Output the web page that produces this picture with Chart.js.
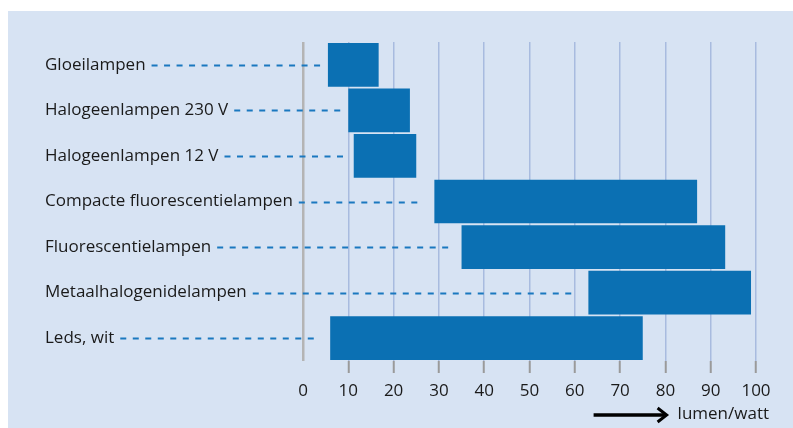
<!DOCTYPE html>
<html><head><meta charset="utf-8">
<script src="https://cdn.jsdelivr.net/npm/chart.js@4"></script>
<style>html,body{margin:0;padding:0;background:#fff}#wrap{width:793px;height:428px;position:relative}</style>
</head><body><div id="wrap"><canvas id="c" width="793" height="428"></canvas></div>
<script>
const categories = ['Gloeilampen','Halogeenlampen 230 V','Halogeenlampen 12 V','Compacte fluorescentielampen','Fluorescentielampen','Metaalhalogenidelampen','Leds, wit'];
const minEfficacy = [5.5, 10, 11.2, 29, 35, 63, 6];
const maxEfficacy = [16.7, 23.6, 25, 87, 93.2, 98.9, 75];
const xTicks = [0, 10, 20, 30, 40, 50, 60, 70, 80, 90, 100];
const unitLabel = 'lumen/watt';

const FONT = 'Open Sans';
const FSIZE = 17;
const TEXT = '#1a1a1a';

const panelPlugin = {
  id: 'panel',
  beforeDraw(chart) {
    const ctx = chart.ctx;
    ctx.save();
    ctx.fillStyle = '#ffffff';
    ctx.fillRect(0, 0, chart.width, chart.height);
    ctx.fillStyle = '#d7e3f3';
    ctx.fillRect(8, 11, chart.width - 8, chart.height - 11);
    ctx.restore();
  }
};

const leaderPlugin = {
  id: 'leaders',
  beforeDatasetsDraw(chart) {
    const ctx = chart.ctx;
    const yScale = chart.scales.y;
    const meta = chart.getDatasetMeta(0);
    ctx.save();
    ctx.font = FSIZE + 'px "' + FONT + '"';
    ctx.strokeStyle = '#1a78bf';
    ctx.lineWidth = 2;
    const dash = 6, gap = 6.5, period = dash + gap;
    categories.forEach((lab, i) => {
      const el = meta.data[i];
      const barStart = Math.min(el.x, el.base);
      const y = Math.round(el.y) + 0.5;
      const x0 = yScale.left + ctx.measureText(lab).width + 6;
      const xEnd = barStart - 7;
      const n = Math.floor((xEnd - x0 + gap) / period);
      ctx.beginPath();
      for (let k = 0; k < n; k++) {
        const a = x0 + k * period;
        ctx.moveTo(a, y);
        ctx.lineTo(a + dash, y);
      }
      ctx.stroke();
    });
    ctx.restore();
  }
};

const unitPlugin = {
  id: 'unit',
  afterDraw(chart) {
    const ctx = chart.ctx;
    const area = chart.chartArea;
    ctx.save();
    ctx.font = FSIZE + 'px "' + FONT + '"';
    ctx.fillStyle = TEXT;
    ctx.textBaseline = 'middle';
    ctx.textAlign = 'right';
    const right = area.right + 13;
    const y = 414;
    ctx.fillText(unitLabel, right, y);
    const w = ctx.measureText(unitLabel).width;
    const ax1 = right - w - 11;
    const ax0 = ax1 - 73;
    ctx.strokeStyle = '#000';
    ctx.lineWidth = 3.5;
    ctx.beginPath();
    ctx.moveTo(ax0, y + 1);
    ctx.lineTo(ax1 - 2, y + 1);
    ctx.stroke();
    ctx.lineWidth = 3;
    ctx.lineJoin = 'miter';
    ctx.beginPath();
    ctx.moveTo(ax1 - 9, y - 6);
    ctx.lineTo(ax1, y + 1);
    ctx.lineTo(ax1 - 9, y + 8);
    ctx.stroke();
    ctx.restore();
  }
};

new Chart(document.getElementById('c'), {
  type: 'bar',
  data: {
    labels: categories,
    datasets: [{
      data: categories.map((c, i) => [minEfficacy[i], maxEfficacy[i]]),
      backgroundColor: '#0b70b3',
      borderWidth: 0,
      barPercentage: 0.96,
      categoryPercentage: 1
    }]
  },
  options: {
    indexAxis: 'y',
    responsive: false,
    animation: false,
    devicePixelRatio: 1,
    layout: { padding: { left: 45, top: 42, right: 37, bottom: 0 } },
    plugins: { legend: { display: false }, tooltip: { enabled: false } },
    scales: {
      x: {
        min: 0, max: 100,
        afterBuildTicks: s => { s.ticks = xTicks.map(v => ({ value: v })); },
        afterFit: s => { s.height = 67; },
        ticks: { color: TEXT, font: { family: FONT, size: FSIZE }, padding: 8, maxRotation: 0, autoSkip: false },
        grid: {
          color: c => (c.tick && c.tick.value === 0) ? '#b4b4b4' : '#a8bbdf',
          lineWidth: c => (c.tick && c.tick.value === 0) ? 2.5 : 1.5,
          tickColor: c => (c.tick && c.tick.value === 0) ? 'rgba(0,0,0,0)' : '#9a9a9a',
          tickWidth: 2,
          tickLength: 12
        },
        border: { display: false }
      },
      y: {
        position: 'left',
        afterFit: s => { s.width = 258; },
        grid: { display: false },
        border: { display: false },
        ticks: { crossAlign: 'far', color: TEXT, font: { family: FONT, size: FSIZE } }
      }
    }
  },
  plugins: [panelPlugin, leaderPlugin, unitPlugin]
});
</script>
</body></html>
